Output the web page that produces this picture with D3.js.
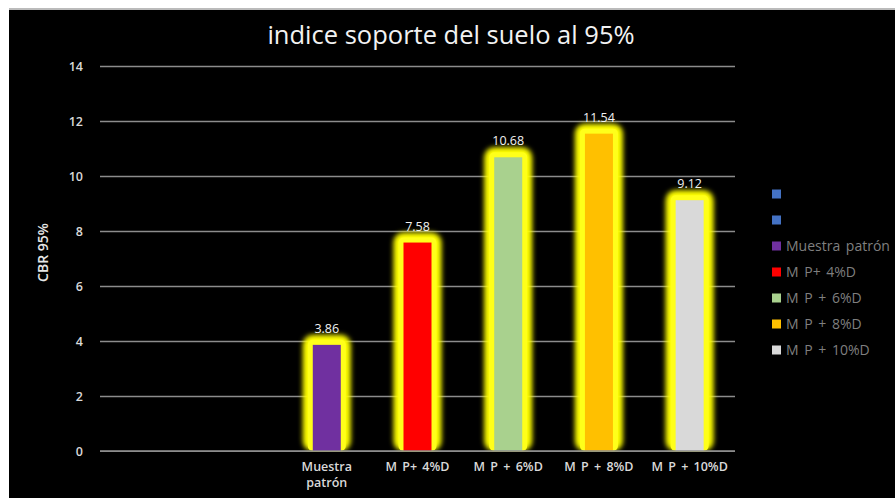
<!DOCTYPE html>
<html>
<head>
<meta charset="utf-8">
<script src="https://cdn.jsdelivr.net/npm/d3@7"></script>
<style>
  body { margin: 0; background: #fff; }
  svg { display: block; }
</style>
</head>
<body>
<svg width="895" height="498"></svg>
<script>
// chart data
var categories = ["", " ", "Muestra patrón", "M P+ 4%D", "M P + 6%D", "M P + 8%D", "M P + 10%D"];
var values = [null, null, 3.86, 7.58, 10.68, 11.54, 9.12];
var labels = ["", "", "3.86", "7.58", "10.68", "11.54", "9.12"];
var colors = ["#4472c4", "#4472c4", "#7030a0", "#ff0000", "#a9d18e", "#ffc000", "#d9d9d9"];
var yTicks = [0, 2, 4, 6, 8, 10, 12, 14];

var font = "Open Sans, sans-serif";

var svg = d3.select("svg"),
    margin = {top: 66, right: 160, bottom: 47, left: 100},
    width = +svg.attr("width") - margin.left - margin.right,
    height = +svg.attr("height") - margin.top - margin.bottom;

// spreadsheet strip at the top, then the black chart area
svg.append("rect").attr("width", 895).attr("height", 498).attr("fill", "#fff");
svg.append("rect").attr("x", 9).attr("y", 8).attr("width", 886).attr("height", 2).attr("fill", "#bbb");
svg.append("rect").attr("x", 9).attr("y", 10).attr("width", 886).attr("height", 488).attr("fill", "#000");

var defs = svg.append("defs");
defs.append("filter").attr("id", "glow")
    .attr("x", "-50%").attr("y", "-50%").attr("width", "200%").attr("height", "200%")
  .append("feGaussianBlur").attr("stdDeviation", 2.8);

var g = svg.append("g").attr("transform", "translate(" + margin.left + "," + margin.top + ")");

var x = d3.scaleBand().domain(categories).range([0, width]);
var y = d3.scaleLinear().domain([0, 14]).range([height, 0]);

// gridlines + tick labels
g.append("g")
    .call(d3.axisLeft(y).tickValues(yTicks).tickSize(-width).tickPadding(17))
    .call(function(a) {
      a.select(".domain").remove();
      a.selectAll("line").attr("stroke", "#8c8c8c").attr("stroke-width", 1.5);
      a.selectAll("text").attr("fill", "#d9d9d9").attr("font-size", 12.5)
        .attr("font-weight", 600).attr("font-family", font);
    });

g.append("text")
    .attr("transform", "translate(-52," + (y(7) - 6) + ") rotate(-90)")
    .attr("text-anchor", "middle")
    .attr("fill", "#e6e6e6")
    .attr("font-family", font)
    .attr("font-weight", 600)
    .attr("font-size", 14)
    .text("CBR 95%");

var data = categories.map(function(c, i) { return {cat: c, v: values[i], label: labels[i], color: colors[i]}; })
    .filter(function(d) { return d.v != null; });

var bw = 28;
var cx = function(d) { return x(d.cat) + x.bandwidth() / 2; };
var bars = g.append("g").selectAll("g").data(data).enter().append("g");

// yellow glow: soft outer halo + solid inner band
bars.append("rect")
    .attr("x", function(d) { return cx(d) - bw / 2 - 10; })
    .attr("y", function(d) { return y(d.v) - 10; })
    .attr("width", bw + 20)
    .attr("height", function(d) { return height - y(d.v) + 10; })
    .attr("rx", 10)
    .attr("fill", "#ffff00")
    .attr("filter", "url(#glow)");

bars.append("rect")
    .attr("x", function(d) { return cx(d) - bw / 2 - 5; })
    .attr("y", function(d) { return y(d.v) - 5; })
    .attr("width", bw + 10)
    .attr("height", function(d) { return height - y(d.v) + 5; })
    .attr("rx", 5)
    .attr("fill", "#ffff1a");

bars.append("rect")
    .attr("x", function(d) { return cx(d) - bw / 2; })
    .attr("y", function(d) { return y(d.v); })
    .attr("width", bw)
    .attr("height", function(d) { return height - y(d.v); })
    .attr("fill", function(d) { return d.color; });

bars.append("text")
    .attr("x", cx)
    .attr("y", function(d) { return y(d.v) - 12; })
    .attr("text-anchor", "middle")
    .attr("fill", "#f2f2f2")
    .attr("font-family", font)
    .attr("font-size", 12.5)
    .text(function(d) { return d.label; });

// baseline redrawn over the glow
g.append("rect").attr("x", 0).attr("width", width).attr("y", height + 1).attr("height", 30).attr("fill", "#000");
g.append("line").attr("x1", 0).attr("x2", width).attr("y1", height).attr("y2", height)
    .attr("stroke", "#8c8c8c").attr("stroke-width", 1.5);

// category labels
var xl = g.append("g").selectAll("text").data(data).enter().append("text")
    .attr("x", cx)
    .attr("y", height + 20)
    .attr("text-anchor", "middle")
    .attr("fill", "#d9d9d9")
    .attr("font-family", font)
    .attr("font-weight", 600)
    .attr("word-spacing", 2)
    .attr("font-size", 12.5);
xl.each(function(d) {
  var t = d3.select(this);
  var parts = d.cat === "Muestra patrón" ? ["Muestra", "patrón"] : [d.cat];
  parts.forEach(function(p, i) {
    t.append("tspan").attr("x", cx(d)).attr("dy", i ? 16 : 0).text(p);
  });
});

// title
svg.append("text")
    .attr("x", 451).attr("y", 44)
    .attr("text-anchor", "middle")
    .attr("fill", "#f2f2f2")
    .attr("font-family", font)
    .attr("font-size", 25.5)
    .text("indice soporte del suelo al 95%");

// legend
var legend = svg.append("g")
    .attr("font-family", font)
    .attr("font-size", 14)
    .attr("word-spacing", 2)
  .selectAll("g")
  .data(categories.map(function(c, i) { return {cat: c, color: colors[i]}; }))
  .enter().append("g")
    .attr("transform", function(d, i) { return "translate(772," + (194 + i * 26) + ")"; });

legend.append("rect")
    .attr("x", 0).attr("y", -4.5)
    .attr("width", 9).attr("height", 9)
    .attr("fill", function(d) { return d.color; });

legend.append("text")
    .attr("x", 14)
    .attr("dy", "0.35em")
    .attr("fill", "#7f7f7f")
    .text(function(d) { return d.cat.trim(); });
</script>
</body>
</html>
